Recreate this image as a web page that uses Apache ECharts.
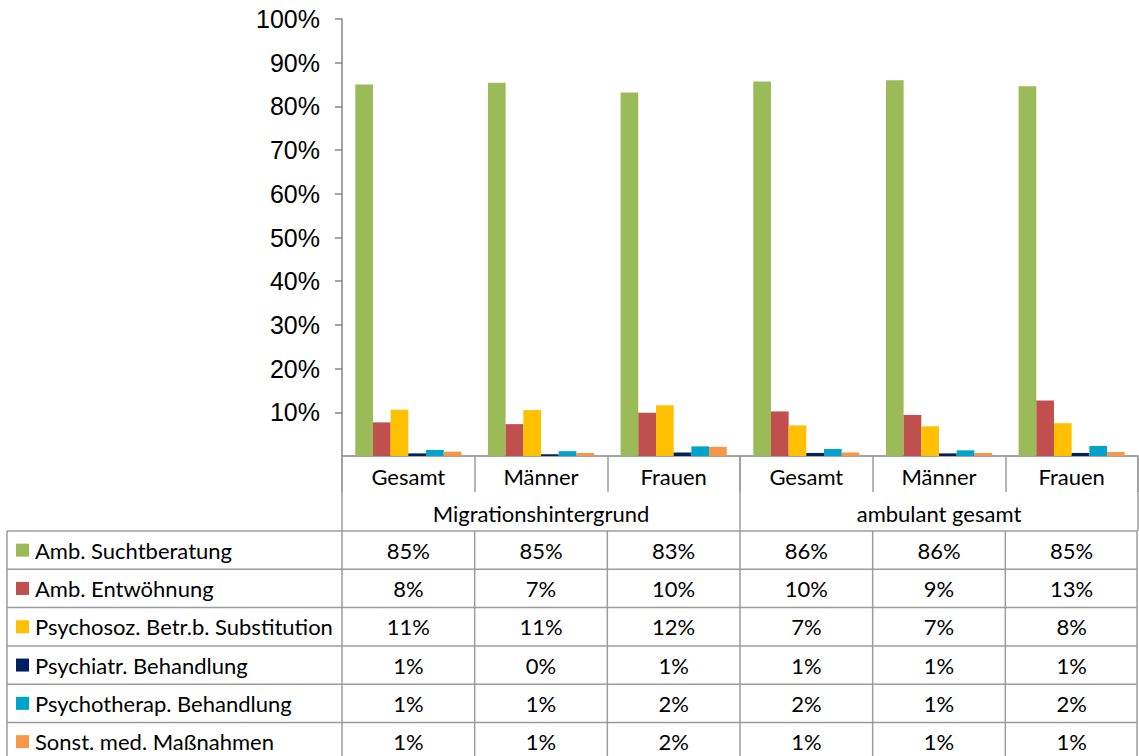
<!DOCTYPE html>
<html><head><meta charset="utf-8">
<script src="https://cdn.jsdelivr.net/npm/echarts@6/dist/echarts.min.js"></script>
<style>html,body{margin:0;padding:0;background:#fff}#c{width:1139px;height:756px}</style>
</head><body><div id="c"></div>
<script>
// ---- data ----
const categories = ['Gesamt', 'Männer', 'Frauen', 'Gesamt', 'Männer', 'Frauen'];
const groups = ['Migrationshintergrund', 'ambulant gesamt'];
const seriesNames = ['Amb. Suchtberatung', 'Amb. Entwöhnung', 'Psychosoz. Betr.b. Substitution',
  'Psychiatr. Behandlung', 'Psychotherap. Behandlung', 'Sonst. med. Maßnahmen'];
const suchtberatung = [85.0, 85.4, 83.2, 85.7, 86.0, 84.6];
const entwoehnung   = [7.7, 7.3, 9.9, 10.2, 9.4, 12.7];
const substitution  = [10.6, 10.5, 11.6, 7.0, 6.8, 7.5];
const psychiatr     = [0.6, 0.4, 0.8, 0.7, 0.6, 0.7];
const psychotherap  = [1.4, 1.1, 2.2, 1.6, 1.3, 2.3];
const sonstMed      = [1.0, 0.7, 2.1, 0.8, 0.7, 0.9];
const seriesValues = [suchtberatung, entwoehnung, substitution, psychiatr, psychotherap, sonstMed];
const colors = ['#9BBB59', '#C0504D', '#FFC000', '#002060', '#00A3CC', '#F79646'];

const FONT = 'Lato';
const chart = echarts.init(document.getElementById('c'), null, { renderer: 'svg' });

const option = {
  animation: false,
  backgroundColor: '#fff',
  grid: { left: 342, right: 1, top: 19, bottom: 300, outerBoundsMode: 'none', containLabel: false },
  xAxis: [
    {
      type: 'category', position: 'bottom', data: categories,
      axisLine: { show: true, lineStyle: { color: '#868686', width: 1.5 } },
      axisTick: { show: true, interval: 0, length: 36, lineStyle: { color: '#9c9c9c', width: 1.5 } },
      axisLabel: { interval: 0, margin: 9, color: '#000', fontFamily: FONT, fontSize: 22 },
      splitLine: { show: false }
    },
    {
      type: 'category', position: 'bottom', data: groups,
      axisLine: { show: false },
      axisTick: { show: true, interval: 0, length: 75, lineStyle: { color: '#9c9c9c', width: 1.5 } },
      axisLabel: { interval: 0, margin: 46, color: '#000', fontFamily: FONT, fontSize: 22 },
      splitLine: { show: false }
    }
  ],
  yAxis: {
    type: 'value', min: 0, max: 100, interval: 10,
    axisLine: { show: true, lineStyle: { color: '#868686', width: 1.5 } },
    axisTick: { show: true, length: 7, lineStyle: { color: '#868686', width: 1.5 } },
    axisLabel: { formatter: '{value}%', showMinLabel: false, margin: 22, color: '#000',
      fontFamily: 'Liberation Sans, Arial', fontSize: 25 },
    splitLine: { show: false }
  },
  series: seriesValues.map((vals, i) => ({
    name: seriesNames[i], type: 'bar', data: vals, xAxisIndex: 0,
    barGap: '0%', barCategoryGap: '20%',
    itemStyle: { color: colors[i] }
  }))
};
chart.setOption(option);

// ---- data table below the axis, positioned from the axis scale ----
const c0 = chart.convertToPixel({ xAxisIndex: 0 }, 0);
const c1 = chart.convertToPixel({ xAxisIndex: 0 }, 1);
const band = c1 - c0;
const axisY = chart.convertToPixel({ yAxisIndex: 0 }, 0);
const tableTop = axisY + 75;
const rowH = 38.3;
const tableLeft = 7;
const firstCol = c0 - band / 2;
const tableRight = firstCol + band * categories.length - 1;
const nRows = seriesNames.length;
const lineStyle = { stroke: '#9c9c9c', lineWidth: 1.5 };
const g = [];
for (let r = 0; r <= nRows; r++) {
  const y = tableTop + r * rowH;
  g.push({ type: 'line', shape: { x1: tableLeft, y1: y, x2: tableRight, y2: y }, style: lineStyle, silent: true });
}
const bottom = tableTop + nRows * rowH;
g.push({ type: 'line', shape: { x1: tableLeft, y1: tableTop, x2: tableLeft, y2: bottom }, style: lineStyle, silent: true });
for (let i = 0; i <= categories.length; i++) {
  const x = i === categories.length ? tableRight : firstCol + i * band;
  g.push({ type: 'line', shape: { x1: x, y1: tableTop, x2: x, y2: bottom }, style: lineStyle, silent: true });
}
for (let r = 0; r < nRows; r++) {
  const cy = tableTop + r * rowH + rowH / 2;
  g.push({ type: 'rect', shape: { x: 16, y: cy - 6.5, width: 13, height: 13 }, style: { fill: colors[r] }, silent: true });
  g.push({ type: 'text', x: 35, y: cy, style: { text: seriesNames[r], fill: '#000', font: '22px ' + FONT,
    textAlign: 'left', textVerticalAlign: 'middle' }, silent: true });
  seriesValues[r].forEach((v, i) => {
    const cx = chart.convertToPixel({ xAxisIndex: 0 }, i);
    g.push({ type: 'text', x: cx, y: cy, style: { text: Math.round(v) + '%', fill: '#000', font: '22px ' + FONT,
      textAlign: 'center', textVerticalAlign: 'middle' }, silent: true });
  });
}
chart.setOption({ graphic: { elements: g } });
</script>
</body></html>
